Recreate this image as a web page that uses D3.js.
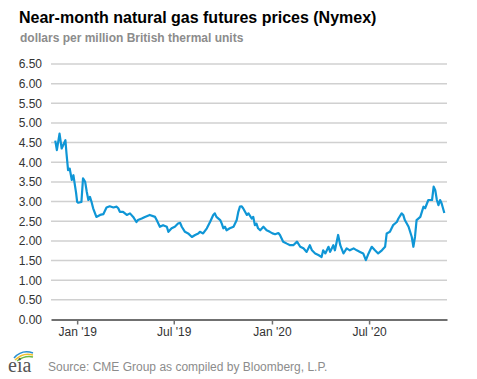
<!DOCTYPE html>
<html><head><meta charset="utf-8">
<script src="https://cdn.jsdelivr.net/npm/d3@7"></script>
<style>
html,body{margin:0;padding:0;background:#fff;}
svg{display:block;font-family:"Liberation Sans",Arial,sans-serif;}
</style></head>
<body><svg id="c" width="477" height="379"></svg>
<script>
const title = "Near-month natural gas futures prices (Nymex)";
const subtitle = "dollars per million British thermal units";
const source = "Source: CME Group as compiled by Bloomberg, L.P.";
const yTicks = [0,0.5,1,1.5,2,2.5,3,3.5,4,4.5,5,5.5,6,6.5];
const xTickDates = ["2019-01-01","2019-07-01","2020-01-01","2020-07-01"];
const xTickLabels = ["Jan '19","Jul '19","Jan '20","Jul '20"];
const xDomain = ["2018-11-13","2020-11-24"];
const dates = [
"2018-11-21","2018-11-24","2018-11-29","2018-12-03","2018-12-06","2018-12-10","2018-12-12","2018-12-15","2018-12-18","2018-12-22","2018-12-25","2018-12-28","2018-12-30","2019-01-01","2019-01-03","2019-01-09","2019-01-12","2019-01-16","2019-01-19","2019-01-22","2019-01-25","2019-01-28","2019-01-31","2019-02-06","2019-02-13","2019-02-19","2019-02-25","2019-03-03","2019-03-10","2019-03-16","2019-03-19","2019-03-22","2019-03-28","2019-04-04","2019-04-10","2019-04-16","2019-04-22","2019-04-25","2019-05-02","2019-05-08","2019-05-17","2019-05-27","2019-05-30","2019-06-05","2019-06-11","2019-06-18","2019-06-21","2019-06-27","2019-07-03","2019-07-09","2019-07-13","2019-07-16","2019-07-22","2019-07-28","2019-08-04","2019-08-10","2019-08-16","2019-08-19","2019-08-25","2019-09-01","2019-09-07","2019-09-13","2019-09-16","2019-09-19","2019-09-26","2019-09-29","2019-10-02","2019-10-05","2019-10-08","2019-10-14","2019-10-21","2019-10-27","2019-10-30","2019-11-02","2019-11-05","2019-11-08","2019-11-15","2019-11-18","2019-11-24","2019-11-27","2019-11-30","2019-12-03","2019-12-06","2019-12-10","2019-12-16","2019-12-22","2019-12-28","2020-01-02","2020-01-07","2020-01-13","2020-01-16","2020-01-22","2020-01-29","2020-02-04","2020-02-10","2020-02-17","2020-02-23","2020-02-29","2020-03-06","2020-03-12","2020-03-16","2020-03-22","2020-03-28","2020-04-03","2020-04-06","2020-04-10","2020-04-16","2020-04-19","2020-04-25","2020-04-28","2020-05-04","2020-05-08","2020-05-14","2020-05-20","2020-05-26","2020-06-02","2020-06-08","2020-06-14","2020-06-20","2020-06-25","2020-06-30","2020-07-06","2020-07-12","2020-07-18","2020-07-25","2020-07-31","2020-08-03","2020-08-09","2020-08-15","2020-08-22","2020-08-25","2020-08-31","2020-09-03","2020-09-06","2020-09-13","2020-09-19","2020-09-22","2020-09-25","2020-09-28","2020-10-05","2020-10-11","2020-10-14","2020-10-20","2020-10-27","2020-10-30","2020-11-02","2020-11-05","2020-11-08","2020-11-11","2020-11-14","2020-11-19"];
const prices = [
4.55,4.31,4.73,4.35,4.44,4.56,4.23,3.80,3.84,3.55,3.67,3.40,3.22,2.99,2.97,2.99,3.59,3.50,3.25,3.04,3.12,2.99,2.83,2.61,2.66,2.68,2.85,2.88,2.85,2.87,2.83,2.74,2.74,2.66,2.70,2.61,2.48,2.53,2.57,2.61,2.66,2.61,2.53,2.36,2.40,2.36,2.23,2.32,2.36,2.44,2.46,2.36,2.23,2.19,2.10,2.15,2.19,2.23,2.19,2.32,2.48,2.66,2.70,2.61,2.53,2.44,2.32,2.36,2.27,2.32,2.36,2.53,2.74,2.87,2.88,2.83,2.66,2.70,2.57,2.61,2.40,2.44,2.32,2.27,2.36,2.27,2.23,2.19,2.17,2.20,2.15,1.98,1.93,1.89,1.89,1.98,1.85,1.81,1.72,1.89,1.76,1.68,1.64,1.59,1.76,1.68,1.85,1.72,1.89,1.76,2.15,1.89,1.68,1.81,1.76,1.81,1.76,1.72,1.68,1.51,1.68,1.85,1.76,1.68,1.76,1.85,2.19,2.23,2.40,2.48,2.57,2.70,2.66,2.53,2.36,2.10,1.85,2.10,2.53,2.61,2.87,2.83,3.04,3.04,3.38,3.29,3.04,2.91,3.04,2.95,2.71];

const parse = d3.utcParse("%Y-%m-%d");
const data = dates.map((d,i)=>({date:parse(d), v:prices[i]}));
const svg = d3.select("#c");
const m = {left:51, right:447, top:64, bottom:319.5};
const x = d3.scaleUtc().domain(xDomain.map(parse)).range([m.left, m.right]);
const y = d3.scaleLinear().domain([0,6.5]).range([m.bottom, m.top]);

svg.append("text").attr("x",19).attr("y",23).attr("font-size","16px").attr("font-weight","bold").attr("fill","#000").text(title);
svg.append("text").attr("x",20).attr("y",42).attr("font-size","12px").attr("font-weight","bold").attr("fill","#8c8c8c").text(subtitle);

// gridlines
svg.append("g").selectAll("line").data(yTicks.filter(t=>t>0)).join("line")
  .attr("x1",m.left).attr("x2",m.right).attr("y1",d=>y(d)).attr("y2",d=>y(d))
  .attr("stroke","#d0d0d0").attr("stroke-width",1.5);

// y axis labels
const ya = svg.append("g").attr("transform",`translate(${m.left},0)`)
  .call(d3.axisLeft(y).tickValues(yTicks).tickFormat(d3.format(".2f")).tickSize(0).tickPadding(9));
ya.select(".domain").remove();
ya.selectAll("text").attr("font-size","12px").attr("fill","#333").attr("font-family","Liberation Sans, Arial, sans-serif");

// x axis
const xa = svg.append("g").attr("transform",`translate(0,${m.bottom})`)
  .call(d3.axisBottom(x).tickValues(xTickDates.map(parse)).tickFormat((d,i)=>xTickLabels[i]).tickSize(5).tickSizeOuter(0).tickPadding(3));
xa.select(".domain").attr("stroke","#707070").attr("stroke-width",2);
xa.selectAll(".tick line").attr("stroke","#707070").attr("stroke-width",1.5);
xa.selectAll("text").attr("font-size","12px").attr("fill","#333").attr("font-family","Liberation Sans, Arial, sans-serif");

// line
svg.append("path").datum(data)
  .attr("d", d3.line().x(d=>x(d.date)).y(d=>y(d.v)))
  .attr("fill","none").attr("stroke","#0f96d6").attr("stroke-width",2.2).attr("stroke-linejoin","round");

// footer logo
const lg = svg.append("g");
lg.append("path").attr("d","M14,358 Q22,349 33,353").attr("fill","none").attr("stroke","#2a8fd0").attr("stroke-width",1.6);
lg.append("path").attr("d","M15,360 Q23,352 33,355").attr("fill","none").attr("stroke","#f2c12e").attr("stroke-width",1.6);
lg.append("path").attr("d","M17,361 Q25,355 33,357").attr("fill","none").attr("stroke","#6dbb45").attr("stroke-width",1.4);
lg.append("text").attr("x",8).attr("y",372).attr("font-family","Liberation Serif, serif").attr("font-size","20px").attr("fill","#555").text("eia");
svg.append("text").attr("x",48).attr("y",371).attr("font-size","12px").attr("fill","#8c8c8c").text(source);
</script></body></html>
